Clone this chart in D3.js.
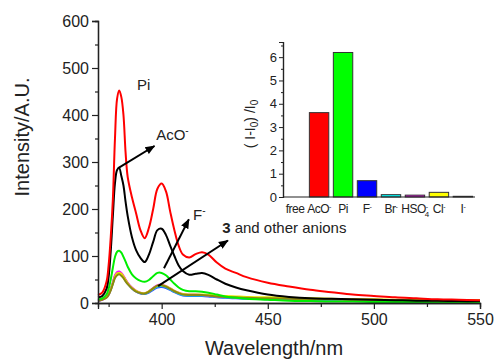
<!DOCTYPE html>
<meta charset="utf-8">
<script src="https://d3js.org/d3.v7.min.js"></script>
<style>
  body { margin: 0; background: #fff; }
  text { font-family: Arial, "Liberation Sans", sans-serif; fill: #222; }
</style>
<div id="chart"></div>
<script>

// wavelengths (nm) sampled along the spectra
var wavelength = [370,372,374,375,376,377,378,379,380,381,382,383,384,386,388,390,392,394,396,398,400,402,404,406,408,410,413,416,419,422,426,430,435,440,450,460,470,480,490,500,510,520,530,540,550];

// emission intensity for each anion
var pi      = [17,22,45,80,140,220,350,435,452,438,400,320,268,225,190,155,138,160,200,243,254,238,195,155,122,103,97,104,108,103,86,73,64,55,43,35,28,23,18,15,12,10,8,7,6];
var aco     = [12,15,30,55,110,185,255,283,287,270,250,215,185,140,112,96,87,103,130,155,158,145,122,100,80,68,60,62,64,60,50,41,33,27,18,13,10,9,8,7,6,5,5,4,4];
var fluor   = [8,10,18,30,50,75,98,109,111,107,98,88,77,61,52,47,45,49,57,64,64,59,50,41,33,28,25,25,24,22,18,14,11,9,7,5,4,3,3,2,2,2,1,1,1];
var hso4    = [5,7,12,18,29,44,59,66,67,64,58,50,43,33,26,22,21,25,32,38,39,36,31,26,22,19,18,18,17,16,14,13,12,11,10,9,8,8,7,7,6,6,5,5,5];
var bromide = [5,7,12,18,28,42,56,62,64,61,55,48,41,31,24,20,19,22,28,33,34,32,28,23,19,16,15,15,15,14,12,11,10,9,8,7,6,6,5,5,4,4,4,3,3];
var chlor   = [6,8,13,19,29,43,57,63,65,62,56,49,42,32,25,21,20,24,30,35,36,34,29,24,20,17,16,16,16,15,13,12,11,10,9,8,7,7,6,6,5,5,4,4,4];
var iodide  = [6,8,13,19,29,42,56,63,64,62,56,49,42,32,26,22,21,25,31,37,38,36,31,26,22,19,18,18,18,17,16,15,14,13,12,11,10,9,8,8,7,7,6,6,6];
var free3   = [5,7,11,17,27,40,53,59,61,58,53,46,40,31,24,21,20,24,31,37,38,35,30,25,21,18,17,17,17,16,14,13,12,11,10,9,8,8,7,7,6,6,5,5,5];

var series = [
  {name: "Br", color: "#3050ff", values: bromide},
  {name: "Cl", color: "#00e0e0", values: chlor},
  {name: "HSO4", color: "#ff00ff", values: hso4},
  {name: "I", color: "#e8e800", values: iodide},
  {name: "free", color: "#8a8a10", values: free3},
  {name: "F", color: "#00ee00", values: fluor},
  {name: "AcO", color: "#000000", values: aco},
  {name: "Pi", color: "#ff0000", values: pi}
];

// inset bar chart
var barNames  = ["free", "AcO", "Pi", "F", "Br", "HSO4", "Cl", "I"];
var barValues = [0, 3.62, 6.2, 0.7, 0.1, 0.08, 0.2, 0.03];
var barColors = ["#ffffff", "#ff0000", "#00ff00", "#0000ff", "#00ffff", "#ff00ff", "#ffff00", "#000000"];

var width = 495, height = 362;

var svg = d3.select("#chart")
  .append("svg")
    .attr("width", width)
    .attr("height", height);

// main scales
var x = d3.scaleLinear().domain([370, 550]).range([98, 480]);
var y = d3.scaleLinear().domain([0, 600]).range([303, 21]);

// spectra
var line = d3.line()
  .x(function(d){ return x(d[0]); })
  .y(function(d){ return y(d[1]); })
  .curve(d3.curveCatmullRom.alpha(0.5));

svg.selectAll(".spec")
  .data(series)
  .enter()
  .append("path")
    .attr("class", "spec")
    .attr("fill", "none")
    .attr("stroke", function(d){ return d.color; })
    .attr("stroke-width", 2)
    .attr("d", function(d){ return line(wavelength.map(function(w, i){ return [w, d.values[i]]; })); });

// axes
var yAxis = svg.append("g")
  .attr("transform", "translate(98,0)")
  .call(d3.axisLeft(y).tickValues([0,100,200,300,400,500,600]).tickSize(6).tickPadding(3));
svg.append("g")
  .attr("transform", "translate(98,0)")
  .call(d3.axisLeft(y).tickValues([50,150,250,350,450,550]).tickSize(3).tickFormat(""));
var xAxis = svg.append("g")
  .attr("transform", "translate(0,303)")
  .call(d3.axisBottom(x).tickValues([400,450,500,550]).tickSize(6).tickPadding(5));
svg.append("g")
  .attr("transform", "translate(0,303)")
  .call(d3.axisBottom(x).tickValues([375,425,475,525]).tickSize(4).tickFormat(""));

svg.selectAll(".domain").attr("stroke", "#222").attr("stroke-width", 1.3);
svg.selectAll(".tick line").attr("stroke", "#222").attr("stroke-width", 1.2);
yAxis.selectAll("text").attr("font-size", "16px").attr("fill", "#222");
xAxis.selectAll("text").attr("font-size", "16px").attr("fill", "#222");

// axis titles
svg.append("text")
  .attr("transform", "translate(29,137) rotate(-90)")
  .attr("text-anchor", "middle")
  .attr("font-size", "20px")
  .text("Intensity/A.U.");

svg.append("text")
  .attr("x", 274)
  .attr("y", 355)
  .attr("text-anchor", "middle")
  .attr("font-size", "20px")
  .text("Wavelength/nm");

// arrows
svg.append("defs").append("marker")
    .attr("id", "head")
    .attr("viewBox", "0 0 10 10")
    .attr("refX", 9).attr("refY", 5)
    .attr("markerWidth", 5).attr("markerHeight", 5)
    .attr("orient", "auto")
  .append("path")
    .attr("d", "M0,1 L10,5 L0,9 Z")
    .attr("fill", "#000");

var arrows = [
  [[379.5, 287], [396.6, 334]],
  [[401.1, 74], [412.8, 178]],
  [[398.3, 36], [431.2, 133]]
];
svg.selectAll(".arrow")
  .data(arrows)
  .enter()
  .append("line")
    .attr("x1", function(d){ return x(d[0][0]); })
    .attr("y1", function(d){ return y(d[0][1]); })
    .attr("x2", function(d){ return x(d[1][0]); })
    .attr("y2", function(d){ return y(d[1][1]); })
    .attr("stroke", "#000")
    .attr("stroke-width", 2)
    .attr("marker-end", "url(#head)");

// curve labels
svg.append("text").attr("x", x(388.4)).attr("y", y(453)).attr("font-size", "15px").text("Pi");

var t1 = svg.append("text").attr("x", x(397.4)).attr("y", y(347)).attr("font-size", "15px");
t1.append("tspan").text("AcO");
t1.append("tspan").attr("dy", -6).attr("font-size", "10px").text("-");

var t2 = svg.append("text").attr("x", x(414.8)).attr("y", y(177)).attr("font-size", "15px");
t2.append("tspan").text("F");
t2.append("tspan").attr("dy", -6).attr("font-size", "10px").text("-");

var t3 = svg.append("text").attr("x", x(428.5)).attr("y", y(149)).attr("font-size", "15px");
t3.append("tspan").attr("font-weight", "bold").text("3");
t3.append("tspan").text(" and other anions");

// ---- inset bar chart ----
var bx = d3.scaleBand().domain(barNames).range([283, 475]).paddingInner(0.19).paddingOuter(0.1);
var by = d3.scaleLinear().domain([0, 6.65]).range([197, 42]);

var inset = svg.append("g");

inset.selectAll("rect")
  .data(barNames.map(function(n, i){ return {name: n, value: barValues[i], color: barColors[i]}; }).filter(function(d){ return d.value > 0; }))
  .enter()
  .append("rect")
    .attr("x", function(d){ return bx(d.name); })
    .attr("y", function(d){ return by(d.value); })
    .attr("width", bx.bandwidth())
    .attr("height", function(d){ return by(0) - by(d.value); })
    .attr("fill", function(d){ return d.color; })
    .attr("stroke", "#333")
    .attr("stroke-width", 1);

var iy = inset.append("g")
  .attr("transform", "translate(283,0)")
  .call(d3.axisLeft(by).tickValues([0,1,2,3,4,5,6]).tickFormat(d3.format("d")).tickSize(4).tickPadding(2));
inset.append("g")
  .attr("transform", "translate(283,0)")
  .call(d3.axisLeft(by).tickValues([0.5,1.5,2.5,3.5,4.5,5.5,6.5]).tickSize(2).tickFormat(""));
inset.append("line")
  .attr("x1", 283).attr("x2", 475)
  .attr("y1", by(0)).attr("y2", by(0))
  .attr("stroke", "#222").attr("stroke-width", 1.2);

inset.selectAll(".domain").attr("stroke", "#222").attr("stroke-width", 1.2);
inset.selectAll(".tick line").attr("stroke", "#222");
iy.selectAll("text").attr("font-size", "13px").attr("fill", "#222");

// inset category labels
var labelParts = {
  "free": ["free", "", ""],
  "AcO": ["AcO", "-", ""],
  "Pi": ["Pi", "", ""],
  "F": ["F", "-", ""],
  "Br": ["Br", "-", ""],
  "HSO4": ["HSO", "-", "4"],
  "Cl": ["Cl", "-", ""],
  "I": ["I", "-", ""]
};
barNames.forEach(function(n){
  var p = labelParts[n];
  var t = inset.append("text")
    .attr("x", bx(n) + bx.bandwidth() / 2)
    .attr("y", 213)
    .attr("text-anchor", "middle")
    .attr("font-size", "12px")
    .attr("letter-spacing", "-0.5px");
  t.append("tspan").text(p[0]);
  if (p[2]) {
    t.append("tspan").attr("dy", -4).attr("font-size", "7px").text(p[1]);
    t.append("tspan").attr("dx", -3).attr("dy", 8).attr("font-size", "8px").text(p[2]);
  } else if (p[1]) {
    t.append("tspan").attr("dy", -4).attr("font-size", "7px").text(p[1]);
  }
});

// inset y title
var yt = inset.append("text")
  .attr("transform", "translate(255,124) rotate(-90)")
  .attr("text-anchor", "middle")
  .attr("font-size", "14px");
yt.append("tspan").text("( I-I");
yt.append("tspan").attr("dy", 3).attr("font-size", "10px").text("0");
yt.append("tspan").attr("dy", -3).text(") /I");
yt.append("tspan").attr("dy", 3).attr("font-size", "10px").text("0");

</script>
